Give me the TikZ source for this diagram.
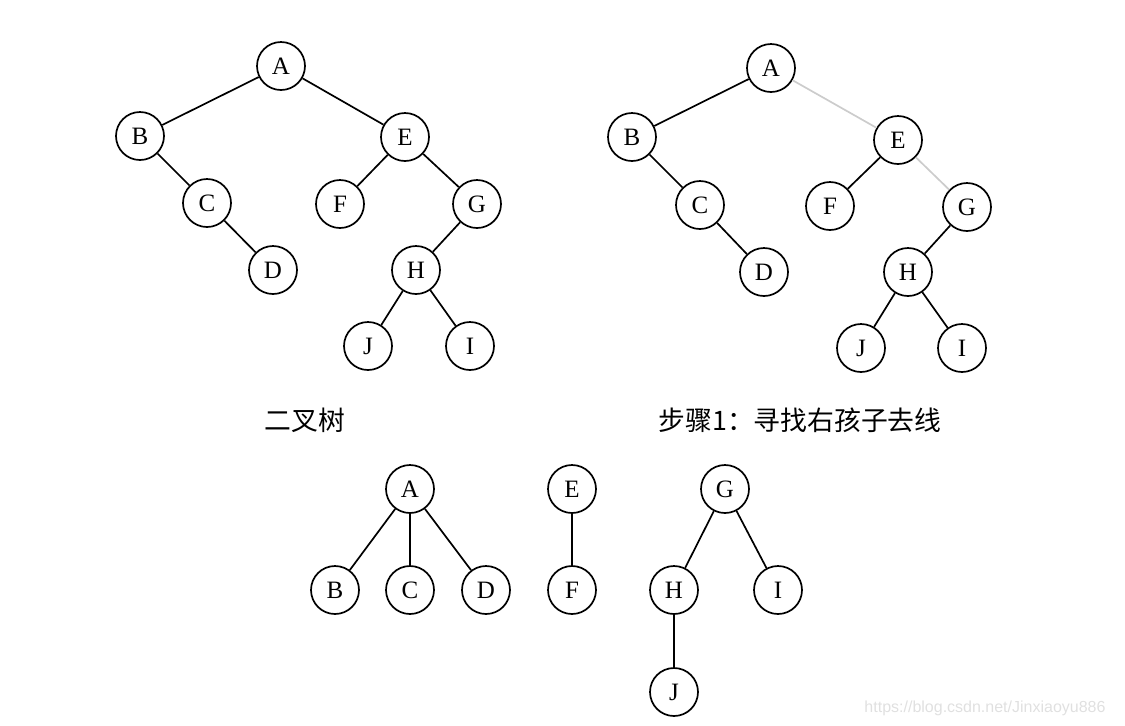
\documentclass[tikz,border=0pt]{standalone}
\usepackage{fontspec}
\setmainfont{Liberation Serif}
\newfontfamily\cjk{Noto Sans CJK SC}
\newfontfamily\wmfont{Liberation Sans}

\begin{document}
\begin{tikzpicture}[
    x=0.5pt, y=-0.5pt,
    % Define node styles
    vertex/.style={draw, circle, line width=0.85pt, minimum size=24pt, inner sep=0pt, font=\fontsize{12.5}{14}\selectfont},
    caption/.style={font=\cjk\fontsize{13.4}{16}\selectfont},
    % Edge styles
    edge/.style={line width=0.85pt},
    cut/.style={line width=0.85pt, draw=black!20}
]
    \useasboundingbox (0,0) rectangle (1125,725);

    % --- BINARY TREE ---
    \node[vertex] (a1) at (281,66)  {A};
    \node[vertex] (b1) at (140,136) {B};
    \node[vertex] (e1) at (405,137) {E};
    \node[vertex] (c1) at (207,203) {C};
    \node[vertex] (f1) at (340,204) {F};
    \node[vertex] (g1) at (477,204) {G};
    \node[vertex] (d1) at (273,270) {D};
    \node[vertex] (h1) at (416,270) {H};
    \node[vertex] (j1) at (368,346) {J};
    \node[vertex] (i1) at (470,346) {I};

    \draw[edge] (a1) -- (b1);
    \draw[edge] (a1) -- (e1);
    \draw[edge] (b1) -- (c1);
    \draw[edge] (c1) -- (d1);
    \draw[edge] (e1) -- (f1);
    \draw[edge] (e1) -- (g1);
    \draw[edge] (g1) -- (h1);
    \draw[edge] (h1) -- (j1);
    \draw[edge] (h1) -- (i1);

    \node[caption] (t1) at (305,420) {二叉树};

    % --- STEP 1 ---
    \node[vertex] (a2) at (771,68)  {A};
    \node[vertex] (b2) at (632,137) {B};
    \node[vertex] (e2) at (898,140) {E};
    \node[vertex] (c2) at (700,205) {C};
    \node[vertex] (f2) at (830,206) {F};
    \node[vertex] (g2) at (967,207) {G};
    \node[vertex] (d2) at (764,272) {D};
    \node[vertex] (h2) at (908,272) {H};
    \node[vertex] (j2) at (861,348) {J};
    \node[vertex] (i2) at (962,348) {I};

    \draw[edge] (a2) -- (b2);
    \draw[cut]  (a2) -- (e2);
    \draw[edge] (b2) -- (c2);
    \draw[edge] (c2) -- (d2);
    \draw[edge] (e2) -- (f2);
    \draw[cut]  (e2) -- (g2);
    \draw[edge] (g2) -- (h2);
    \draw[edge] (h2) -- (j2);
    \draw[edge] (h2) -- (i2);

    \node[caption] (t2) at (800,420) {步骤1：寻找右孩子去线};

    % --- FOREST ---
    \node[vertex] (a3) at (410,489) {A};
    \node[vertex] (b3) at (335,590) {B};
    \node[vertex] (c3) at (410,590) {C};
    \node[vertex] (d3) at (486,590) {D};
    \node[vertex] (e3) at (572,489) {E};
    \node[vertex] (f3) at (572,590) {F};
    \node[vertex] (g3) at (725,489) {G};
    \node[vertex] (h3) at (674,590) {H};
    \node[vertex] (i3) at (778,590) {I};
    \node[vertex] (j3) at (674,692) {J};

    \draw[edge] (a3) -- (b3);
    \draw[edge] (a3) -- (c3);
    \draw[edge] (a3) -- (d3);
    \draw[edge] (e3) -- (f3);
    \draw[edge] (g3) -- (h3);
    \draw[edge] (g3) -- (i3);
    \draw[edge] (h3) -- (j3);

    % watermark
    \node[font=\wmfont\fontsize{8}{9}\selectfont, text=black!12] (wm) at (985,708) {https://blog.csdn.net/Jinxiaoyu886};
\end{tikzpicture}
\end{document}
